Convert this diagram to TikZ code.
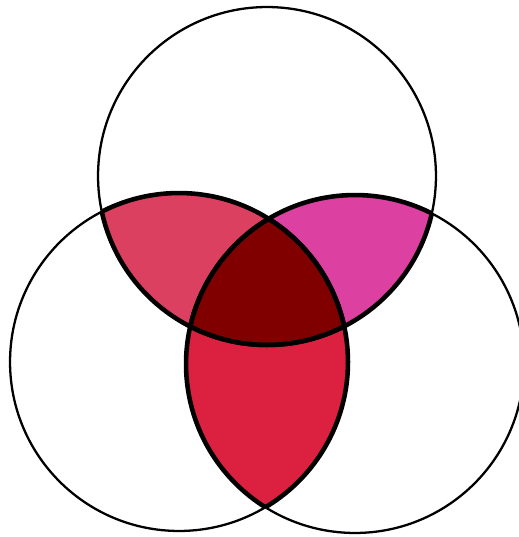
\documentclass[tikz,border=0pt]{standalone}
\definecolor{lensTL}{RGB}{220,64,96}
\definecolor{lensTR}{RGB}{220,64,160}
\definecolor{lensLR}{RGB}{220,32,64}
\definecolor{core}{RGB}{128,0,0}
\begin{document}
\begin{tikzpicture}[x=0.02cm,y=-0.02cm,ring/.style={line width=1.3pt},edge/.style={line width=2.6pt}]
\useasboundingbox (0,0) rectangle (519,537);
\def\rad{3.38cm}
\coordinate (T) at (267,176);
\coordinate (L) at (179,362);
\coordinate (R) at (355,364);
% two-set lenses
\begin{scope}\clip (T) circle[radius=\rad]; \fill[lensTL] (L) circle[radius=\rad];\end{scope}
\begin{scope}\clip (T) circle[radius=\rad]; \fill[lensTR] (R) circle[radius=\rad];\end{scope}
\begin{scope}\clip (L) circle[radius=\rad]; \fill[lensLR] (R) circle[radius=\rad];\end{scope}
% all three
\begin{scope}\clip (T) circle[radius=\rad]; \clip (L) circle[radius=\rad]; \fill[core] (R) circle[radius=\rad];\end{scope}
% heavy outlines inside the overlaps
\foreach \a/\b in {T/L,T/R,L/T,L/R,R/T,R/L}{
\begin{scope}\clip (\b) circle[radius=\rad]; \draw[edge] (\a) circle[radius=\rad];\end{scope}
}
\foreach \c in {T,L,R} \draw[ring] (\c) circle[radius=\rad];
\end{tikzpicture}
\end{document}
